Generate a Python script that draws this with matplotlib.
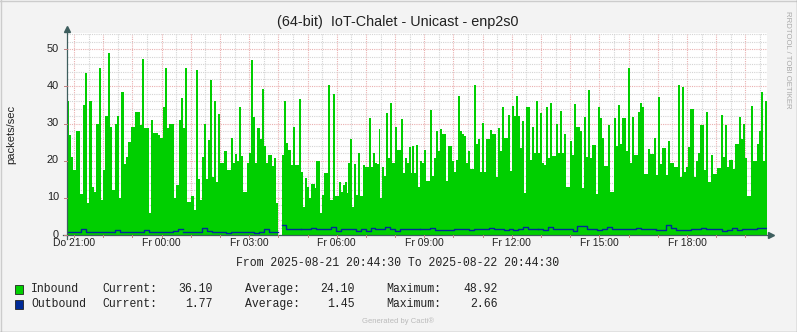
import numpy as np
import matplotlib.pyplot as plt
from matplotlib.lines import Line2D
from matplotlib.patches import Rectangle

W, H = 797, 332

# time axis in hours since Thursday 00:00 (start 20:44:30, end next day 20:44:30)
t_start = 20 + 44.5 / 60
t_end = t_start + 24
tick_hours = [21, 24, 27, 30, 33, 36, 39, 42]
tick_labels = ["Do 21:00", "Fr 00:00", "Fr 03:00", "Fr 06:00",
               "Fr 09:00", "Fr 12:00", "Fr 15:00", "Fr 18:00"]

# segment boundaries (hours); no data between 27.99 and 28.12
seg_edges = [t_start, 24.74, 27.99, 28.12, 28.79, 32.85, 36.90, 40.94, t_end]

# inbound packets/sec, read per segment
in_a = [36, 27, 21, 17.5, 28, 28, 11, 35, 43.5, 8.7, 36, 13, 11.7, 30, 45, 9.4, 17.5, 32,
        48.9, 29, 12, 30, 32, 10, 38.5, 19, 21, 25, 29, 29, 33, 33, 29.6, 47.4, 28.7, 28.7,
        6, 31, 27.4, 27.4, 27, 26, 34.6, 45, 28.7, 30, 30, 10, 13.5, 31, 37]
in_b = [28.7, 45, 9, 9, 10.5, 6.7, 44.5, 15, 9.4, 21, 30, 15, 25.6, 41.8, 15.7, 36, 14.4,
        32.6, 19.3, 19.3, 22.7, 17.5, 17.5, 26, 19.3, 21.8, 20, 34.4, 21.3, 11.7, 11.7, 19.3,
        22, 47, 31.7, 19.3, 28.7, 25.8, 39.3, 24, 19.3, 21.6, 21.6, 18.6, 20.7, 8.5]
in_c = [21.6, 36, 24.7, 23, 18.9, 29, 18.9, 18.9, 36.6]
in_d = [17, 7.6, 15.3, 13, 9.9, 13.7, 13.7, 12.6, 20, 20, 6, 10.8, 16.6, 16.6, 40.4, 9.4,
        9.4, 38, 10.5, 10.5, 14.4, 11.7, 13.5, 14.2, 11.2, 19.3, 25.8, 7.6, 19, 10.8, 22.2,
        10.5, 10.5, 18.9, 18.4, 18.4, 31.4, 18.2, 22.2, 19.3, 19, 28.5, 9.9, 18.2, 16, 32.8,
        20.7, 35.5, 19.5, 19.5, 29, 22.9, 22.9, 31.2, 16.6, 20.7, 19.3, 23.8, 16.6, 24, 16.6,
        24.3, 13]
in_e = [19.8, 19.5, 22.9, 14.6, 14.6, 33.7, 16, 20.7, 27.9, 22.5, 28.5, 27.2, 27.2, 14.6,
        24, 24, 19.8, 17, 20.2, 37.5, 27.9, 27.2, 26.7, 19.3, 22.5, 17.7, 17.7, 40.4, 24.5,
        25.8, 17, 30.1, 17, 25.8, 25.8, 28.3, 27.2, 27.2, 15.7, 28.7, 22.7, 34.4, 26, 26,
        32.3, 17.3, 34.8, 32, 37.3, 32, 23.4, 30.8, 11.4, 34.4, 34.4, 20.2, 29.2, 22.2, 36]
in_f = [22.2, 32.8, 19.3, 18.9, 34.4, 20.7, 35.5, 21.3, 21.3, 29.8, 22.2, 33.4, 22.2, 27.2,
        13, 13, 25.2, 21.6, 35.3, 29, 29, 27.9, 12.6, 31.7, 20.9, 39, 20.7, 24.3, 24.3, 11,
        34.4, 31.4, 26, 18.6, 18.6, 29.6, 11.7, 11.7, 31.4, 24, 35, 24.5, 31.4, 31.4, 22.5,
        44.9, 19.5, 31.7, 21.6, 21.6, 33.2, 35.5, 34.4, 16.4, 16.4, 23.1, 21.8, 21.8, 26]
in_g = [16.2, 37.1, 19, 23.4, 23.4, 16.2, 25.2, 19.3, 19.3, 18.2, 18.2, 40.4, 15.7, 39.8,
        17, 18.2, 23.6, 33.9, 33.9, 15.5, 19.8, 22.2, 29.6, 29.6, 17.5, 33.2, 14.4, 21.6,
        16.4, 16.4, 18, 18, 32.3, 21.1, 29.6, 18.2, 20.2, 20.2, 17.7, 24.5, 24.5, 31.7, 25.8,
        29.9, 20.7, 10.5, 10.5, 34.8, 20, 20, 24.5, 28.1, 38.4, 19.8, 36.1]

# outbound packets/sec
out_a = [0.8, 0.7, 0.8, 1.5, 0.8, 0.7, 0.8, 0.7, 0.8, 0.8, 1.4, 0.8, 0.7, 0.8, 0.8, 0.7,
         1.3, 0.7, 0.8, 0.7, 0.8, 0.9, 1.0, 1.5]
out_b = [0.7, 0.7, 0.7, 0.7, 1.9, 1.0, 0.7, 0.7, 0.7, 0.5, 0.7, 0.7, 0.7, 0.7, 0.7, 0.5,
         0.7, 1.5, 0.8, 0.7]
out_c = [2.66, 1.5, 1.6, 1.5, 1.5]
out_d = [1.5, 1.5, 1.8, 1.5, 1.5, 1.5, 2.2, 1.2, 1.5, 1.5, 1.5, 1.2, 1.5, 1.2, 1.8, 1.5,
         1.5, 2.2, 1.5, 1.2, 1.5, 1.6, 1.5, 1.5]
out_e = [1.5, 1.5, 1.8, 1.4, 1.4, 1.4, 1.4, 1.6, 1.5, 1.5, 1.4, 1.5, 1.5, 1.5, 1.8, 1.5,
         1.5, 1.4, 1.5, 1.4, 1.5, 2.2, 1.5, 1.5]
out_f = [1.6, 1.3, 2.2, 1.6, 1.6, 1.5, 1.5, 1.2, 2.3, 2.3, 1.5, 1.5, 1.3, 1.5, 2.2, 1.5,
         1.5, 1.5, 1.5, 1.5, 1.8, 1.6, 1.5, 1.5]
out_g = [1.4, 1.3, 2.6, 1.8, 1.3, 1.4, 1.3, 1.6, 1.7, 2.0, 1.5, 1.5, 1.5, 1.2, 1.3, 1.8,
         1.4, 1.5, 1.5, 1.5, 1.9, 1.77]

inbound = [in_a, in_b, None, in_c, in_d, in_e, in_f, in_g]
outbound = [out_a, out_b, None, out_c, out_d, out_e, out_f, out_g]

legend_rows = [
    ("Inbound", "#00CF00", "36.10", "24.10", "48.92"),
    ("Outbound", "#002A97", "1.77", "1.45", "2.66"),
]


def fx(x):
    return x / W


def fy(y):
    return 1 - y / H


fig = plt.figure(figsize=(W / 100, H / 100), dpi=100, facecolor="#F3F3F3")
plot_l, plot_r, plot_t, plot_b = 66.5, 767, 33, 235
ax = fig.add_axes([fx(plot_l), fy(plot_b), (plot_r - plot_l) / W, (plot_b - plot_t) / H])
ax.set_facecolor("white")

for i in range(len(inbound)):
    if inbound[i] is None:
        continue
    v = np.array(inbound[i] + [inbound[i][-1]])
    t = np.linspace(seg_edges[i], seg_edges[i + 1], len(v))
    ax.fill_between(t, 0, v, step="post", color="#00CF00", lw=0, zorder=2)
    o = np.array(outbound[i] + [outbound[i][-1]])
    to = np.linspace(seg_edges[i], seg_edges[i + 1], len(o))
    ax.plot(to, o, drawstyle="steps-post", color="#002A97", lw=1.0, zorder=3)

ymax = 54.4
ax.set_xlim(t_start, t_end)
ax.set_ylim(0, ymax)

# grid
for h in np.arange(21, 45, 0.5):
    major = float(h).is_integer()
    ax.axvline(h, color="#EAB0B0" if major else "#D4D4D4", lw=0.8, ls=(0, (1, 1)), zorder=1)
for yv in np.arange(2, ymax, 2):
    major = yv % 10 == 0
    ax.axhline(yv, color="#EAB0B0" if major else "#D4D4D4", lw=0.8, ls=(0, (1, 1)), zorder=1)

for s in ax.spines.values():
    s.set_visible(False)
ax.set_xticks([])
ax.set_yticks([])

axis_col = "#3E5E5E"
# axes with arrows
fig.add_artist(Line2D([fx(plot_l), fx(plot_l)], [fy(plot_b + 4), fy(plot_t - 3)],
                      color=axis_col, lw=0.9))
fig.add_artist(Line2D([fx(plot_l - 4), fx(plot_r + 3)], [fy(plot_b), fy(plot_b)],
                      color=axis_col, lw=0.9))
fig.add_artist(Line2D([fx(plot_l)], [fy(plot_t - 4)], marker="^", ms=5, color=axis_col))
fig.add_artist(Line2D([fx(plot_r + 4)], [fy(plot_b)], marker=">", ms=5, color=axis_col))

px_per_h = (plot_r - plot_l) / 24
px_per_v = (plot_b - plot_t) / ymax

# small tick marks
for h in range(21, 45):
    xp = plot_l + (h - t_start) * px_per_h
    fig.add_artist(Line2D([fx(xp), fx(xp)], [fy(plot_b), fy(plot_b + 2)], color="#C08080", lw=0.7))
for yv in range(0, 51, 10):
    yp = plot_b - yv * px_per_v
    fig.add_artist(Line2D([fx(plot_l - 3), fx(plot_l)], [fy(yp), fy(yp)], color="#C08080", lw=0.7))
    fig.text(fx(59), fy(yp - 0.5), str(yv), ha="right", va="center", fontsize=7.9,
             family="Liberation Sans", color="#222222")

for h, lab in zip(tick_hours, tick_labels):
    xp = plot_l + (h - t_start) * px_per_h
    fig.text(fx(xp), fy(243.5), lab, ha="center", va="center", fontsize=7.5,
             family="Liberation Sans", color="#222222")

fig.text(fx(398), fy(22), "(64-bit)  IoT-Chalet - Unicast - enp2s0", ha="center",
         va="center", fontsize=10.4, family="Liberation Sans", color="#222222")
fig.text(fx(11), fy(134), "packets/sec", rotation=90, ha="center", va="center",
         fontsize=8, family="Liberation Sans", color="#222222")
fig.text(fx(787), fy(60), "RRDTOOL / TOBI OETIKER", rotation=270, ha="center",
         va="center", fontsize=5.6, family="Liberation Sans", color="#AAAAAA")

mono = "Liberation Mono"
fig.text(fx(398), fy(263), "From 2025-08-21 20:44:30 To 2025-08-22 20:44:30",
         ha="center", va="center", fontsize=8.3, family=mono, color="#222222")

for k, (name, col, cur, avg, mx) in enumerate(legend_rows):
    yp = 289 + k * 15
    fig.patches.append(Rectangle((fx(15), fy(yp + 4.5)), 8 / W, 9 / H, transform=fig.transFigure,
                                 facecolor=col, edgecolor="#222222", lw=0.6))
    fig.text(fx(31), fy(yp), name, ha="left", va="center", fontsize=8.3, family=mono, color="#222222")
    fig.text(fx(102), fy(yp), "Current:", ha="left", va="center", fontsize=8.3, family=mono, color="#222222")
    fig.text(fx(213), fy(yp), cur, ha="right", va="center", fontsize=8.3, family=mono, color="#222222")
    fig.text(fx(245), fy(yp), "Average:", ha="left", va="center", fontsize=8.3, family=mono, color="#222222")
    fig.text(fx(355), fy(yp), avg, ha="right", va="center", fontsize=8.3, family=mono, color="#222222")
    fig.text(fx(386), fy(yp), "Maximum:", ha="left", va="center", fontsize=8.3, family=mono, color="#222222")
    fig.text(fx(498), fy(yp), mx, ha="right", va="center", fontsize=8.3, family=mono, color="#222222")

fig.text(fx(398), fy(321), "Generated by Cacti®", ha="center", va="center", fontsize=5.5,
         family="Liberation Sans", color="#BBBBBB")

# outer border
fig.add_artist(Line2D([0, 1], [fy(0.5), fy(0.5)], color="#CCCCCC", lw=1))
fig.add_artist(Line2D([fx(0.5), fx(0.5)], [0, 1], color="#CCCCCC", lw=1))
fig.add_artist(Line2D([0, 1], [fy(331.5), fy(331.5)], color="#999999", lw=1))
fig.add_artist(Line2D([fx(796.5), fx(796.5)], [0, 1], color="#999999", lw=1))

fig.savefig("out.png", dpi=100, facecolor=fig.get_facecolor())
